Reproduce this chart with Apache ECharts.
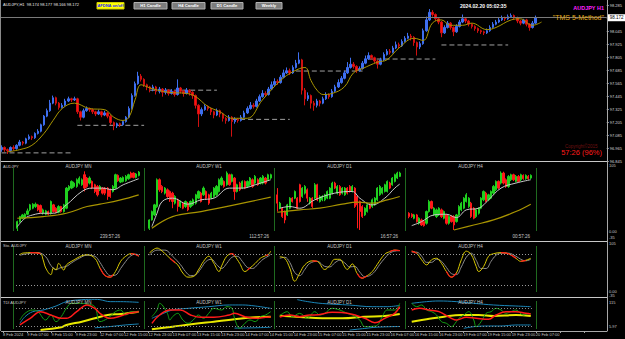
<!DOCTYPE html>
<html><head><meta charset="utf-8">
<script src="https://cdn.jsdelivr.net/npm/echarts@6/dist/echarts.min.js"></script>
<style>html,body{margin:0;padding:0;background:#000;overflow:hidden}#c{width:625px;height:339px}</style>
</head><body><div id="c"></div>
<script>
// ---------- MAIN H1 DATA ----------
const firstOpen = 96.95;
const closes = [
96.97,96.95,96.94,96.97,96.96,96.99,97.02,97.01,97.05,97.07,
97.06,97.10,97.12,97.18,97.26,97.31,97.38,97.43,97.38,97.34,
97.36,97.40,97.42,97.41,97.42,97.30,97.25,97.31,97.33,97.32,
97.30,97.28,97.30,97.27,97.29,97.26,97.20,97.17,97.19,97.18,
97.21,97.25,97.33,97.45,97.56,97.63,97.60,97.55,97.53,97.51,
97.53,97.49,97.51,97.48,97.50,97.47,97.49,97.46,97.52,97.49,
97.47,97.50,97.48,97.45,97.36,97.28,97.32,97.35,97.33,97.30,
97.27,97.31,97.28,97.24,97.22,97.25,97.21,97.23,97.22,97.25,
97.29,97.33,97.36,97.35,97.40,97.44,97.47,97.46,97.51,97.55,
97.58,97.57,97.62,97.66,97.68,97.66,97.71,97.75,97.78,97.50,
97.42,97.45,97.38,97.36,97.40,97.38,97.42,97.46,97.44,97.49,
97.53,97.57,97.61,97.66,97.71,97.74,97.72,97.68,97.70,97.75,
97.79,97.82,97.80,97.77,97.74,97.78,97.83,97.86,97.85,97.89,
97.92,97.91,97.95,97.98,98.00,97.99,97.94,97.90,97.93,98.05,
98.15,98.22,98.20,98.16,98.13,98.03,98.08,98.12,98.08,98.04,
98.09,98.13,98.16,98.14,98.11,98.09,98.07,98.05,98.04,98.03,
98.05,98.08,98.11,98.13,98.15,98.17,98.16,98.18,98.19,98.17,
98.14,98.12,98.15,98.11,98.08,98.12,98.17];
const highs = [
96.99,96.98,96.96,96.98,96.99,97.00,97.04,97.03,97.06,97.09,
97.08,97.11,97.14,97.19,97.27,97.33,97.41,97.45,97.44,97.39,
97.38,97.42,97.44,97.43,97.44,97.43,97.31,97.33,97.35,97.34,
97.33,97.31,97.32,97.31,97.31,97.30,97.27,97.21,97.20,97.20,
97.22,97.26,97.35,97.47,97.58,97.67,97.65,97.61,97.56,97.54,
97.55,97.54,97.53,97.52,97.52,97.51,97.51,97.50,97.60,97.53,
97.50,97.52,97.51,97.49,97.46,97.37,97.34,97.37,97.36,97.34,
97.31,97.33,97.32,97.29,97.25,97.27,97.26,97.25,97.24,97.27,
97.31,97.35,97.39,97.38,97.42,97.46,97.50,97.49,97.53,97.58,
97.61,97.60,97.64,97.69,97.71,97.70,97.73,97.78,97.85,97.79,
97.52,97.48,97.46,97.40,97.42,97.41,97.44,97.48,97.47,97.51,
97.55,97.60,97.63,97.68,97.76,97.80,97.76,97.73,97.72,97.77,
97.82,97.85,97.83,97.81,97.78,97.80,97.85,97.88,97.88,97.91,
97.95,97.94,97.97,98.00,98.03,98.02,98.00,97.95,97.95,98.07,
98.18,98.25,98.24,98.21,98.17,98.14,98.10,98.14,98.13,98.09,
98.11,98.15,98.20,98.17,98.15,98.12,98.10,98.08,98.06,98.05,
98.07,98.10,98.13,98.15,98.17,98.19,98.18,98.20,98.21,98.20,
98.18,98.15,98.16,98.16,98.12,98.14,98.19];
const lows = [
96.93,96.93,96.91,96.93,96.94,96.95,96.98,96.99,97.00,97.04,
97.04,97.05,97.09,97.11,97.17,97.25,97.30,97.37,97.36,97.32,
97.33,97.35,97.39,97.39,97.40,97.28,97.22,97.24,97.30,97.30,
97.28,97.26,97.27,97.25,97.26,97.24,97.18,97.13,97.15,97.16,
97.17,97.20,97.24,97.32,97.44,97.55,97.58,97.53,97.50,97.48,
97.49,97.46,97.47,97.44,97.46,97.45,97.46,97.44,97.45,97.47,
97.44,97.46,97.45,97.42,97.33,97.16,97.26,97.31,97.31,97.27,
97.24,97.26,97.25,97.21,97.19,97.21,97.07,97.19,97.20,97.21,
97.24,97.28,97.32,97.33,97.34,97.39,97.43,97.44,97.45,97.50,
97.54,97.55,97.56,97.61,97.65,97.64,97.65,97.70,97.74,97.46,
97.36,97.40,97.33,97.31,97.34,97.35,97.37,97.41,97.42,97.43,
97.48,97.52,97.56,97.60,97.65,97.70,97.70,97.66,97.67,97.69,
97.74,97.78,97.78,97.75,97.70,97.73,97.77,97.82,97.83,97.84,
97.88,97.89,97.90,97.94,97.97,97.96,97.91,97.82,97.88,97.92,
98.04,98.14,98.18,98.14,98.11,97.99,98.02,98.07,98.06,98.00,
98.03,98.08,98.12,98.12,98.09,98.07,98.05,98.03,98.02,98.01,
98.02,98.04,98.07,98.10,98.12,98.14,98.14,98.15,98.17,98.15,
98.12,98.10,98.11,98.09,98.05,98.07,98.11];
const maMain = [[2,96.93],[6,96.95],[10,96.99],[14,97.10],[17,97.22],[20,97.33],[24,97.38],[29,97.33],[34,97.32],[37,97.25],[40,97.22],[42,97.25],[44,97.41],[46,97.55],[49,97.52],[55,97.48],[61,97.47],[64,97.44],[68,97.35],[72,97.30],[76,97.24],[81,97.24],[86,97.41],[92,97.59],[96,97.67],[100,97.71],[102,97.59],[104,97.50],[106,97.46],[109,97.47],[113,97.53],[116,97.66],[119,97.70],[124,97.76],[127,97.78],[131,97.89],[136,97.98],[139,97.96],[142,98.12],[145,98.15],[148,98.10],[152,98.10],[155,98.12],[160,98.06],[163,98.08],[168,98.15],[171,98.16],[175,98.10],[178,98.13]];
const levelPrices = [96.92, 97.175, 97.50, 97.23, 97.677, 97.788, 97.918];
const levelStart  = [0, 25, 49, 76, 97, 121, 145];
const levelEnd    = [23, 47, 71, 95, 119, 143, 167];
const bidPrice = 98.172;
const tickLabels = ['8 Feb 2024','9 Feb 07:00','9 Feb 15:00','9 Feb 23:00','12 Feb 07:00','12 Feb 15:00','12 Feb 23:00','13 Feb 07:00','13 Feb 15:00','13 Feb 23:00','14 Feb 07:00','14 Feb 15:00','14 Feb 23:00','15 Feb 07:00','15 Feb 15:00','15 Feb 23:00','16 Feb 07:00','16 Feb 15:00','16 Feb 23:00','19 Feb 07:00','19 Feb 15:00','19 Feb 23:00','20 Feb 07:00'];

// ---------- MINI CHARTS (relative level 0-100) [open, close, low, high] ----------
const tfNames = ['AUDJPY MN','AUDJPY W1','AUDJPY D1','AUDJPY H4'];
const tfTimers = ['239:57:26','112:57:26','16:57:26','00:57:26'];
const mnCandles = [[5.5,15.5,1.5,17],[15.5,23,14,24],[20.5,25.5,19,27],[21.5,26.5,20,28],[26.5,31.5,25,35],[33,40.5,31,42],[35.5,41.5,34,43],[38,41.5,36,44],[40.5,33,31,42],[39.5,29.5,28,41],[28,33,26,35],[26.5,31.5,25,33],[30.5,26.5,25,32],[28,45.5,26,47],[40.5,30.5,29,42],[35.5,29.5,28,37],[29.5,38,28,40],[38,30.5,29,39],[30.5,40.5,29,42],[35.5,65.5,34,67],[63,68,61,70],[65.5,75.5,64,77],[68,73,66,75],[68,78,66,80],[73,80.5,71,83],[70.5,78,69,80],[85.5,65.5,60.5,90.5],[80.5,68,66,82],[73,80.5,71,83],[75.5,65.5,64,77],[70.5,60.5,58,72],[68,55.5,53,70],[63,68,61,70],[65.5,58,56,67],[65.5,58,55,67],[65.5,53,48,67],[63,53,51,65],[60.5,68,59,70],[65.5,85.5,64,87],[84.5,76.5,75,86],[74.5,80.5,73,82],[75.5,81.5,74,83],[76.5,83,75,85],[79.5,85.5,78,87],[88,81.5,80,90],[88,81.5,80,89],[81.5,86.5,80,88],[84.5,89.5,83,91]];
const w1Candles = [[5.5,18,3,19],[18,30.5,17,32],[25.5,40.5,24,42],[38,78,36,80],[78,63,60,80],[68,60.5,58,70],[58,65.5,56,67],[63,53,51,65],[60.5,48,45,62],[58,45.5,35.5,60],[43,53,41,55],[48,38,30.5,50],[38,45.5,36,47],[43,35.5,34,45],[38,45.5,36,47],[43,33,31,45],[38,45.5,36,47],[40.5,48,39,50],[43,55.5,41,57],[50.5,60.5,49,62],[58,45.5,44,60],[55.5,65.5,54,68],[60.5,50.5,48,62],[55.5,43,40.5,57],[50.5,58,49,60],[53,65.5,51,67],[55.5,68,54,70],[60.5,78,59,80],[70.5,80.5,69,83],[75.5,68,66,77],[70.5,88,69,90.5],[85.5,70.5,69,87],[75.5,85.5,74,87],[80.5,60.5,48,82],[60.5,70.5,59,72],[73,63,61,75],[65.5,75.5,64,77],[75.5,65.5,64,77],[68,75.5,66,77],[70.5,80.5,69,82],[78,68,66,80],[73,83,71,85],[78,70.5,69,80],[73,80.5,71,82],[73,83,71,85],[80.5,73,71,82],[78,85.5,76,87],[80.5,85.5,79,87]];
const d1Candles = [[55.5,43,30.5,65.5],[35.5,43,34,45],[35.5,23,21,37],[30.5,18,13,32],[25.5,40.5,24,42],[35.5,50.5,34,52],[50.5,45.5,44,52],[50.5,60.5,49,62],[50.5,35.5,34,52],[70.5,45.5,44,72],[53,65.5,51,67],[58,68,56,70],[63,50.5,45,65],[43,50.5,41,52],[50.5,38,36,52],[50.5,70.5,49,73],[70.5,48,46,72],[45.5,53,44,55],[48,53,46,55],[48,55.5,46,57],[50.5,60.5,49,62],[50.5,65.5,49,67],[58,73,56,75],[73,65.5,64,75],[58,68,56,70],[68,55.5,54,70],[58,65.5,56,67],[55.5,65.5,54,67],[65.5,58,56,67],[68,60.5,59,70],[60.5,68,59,70],[65.5,38,36,67],[53,40.5,5.5,55],[45.5,30.5,3,47],[38,23,21,40],[25.5,35.5,24,37],[30.5,40.5,29,42],[40.5,35.5,34,42],[38,48,36,50],[40.5,50.5,39,52],[48,65.5,46,67],[55.5,68,54,70],[58,65.5,56,67],[60.5,70.5,59,72],[60.5,75.5,59,77],[73,65.5,64,75],[70.5,80.5,69,82],[75.5,85.5,74,87],[80.5,88,79,90],[83,88,82,90]];
const h4Candles = [[28,23,20.5,29.5],[26.5,23,21,28],[20.5,25.5,19,27],[25.5,15.5,14,27],[13,20.5,11,22],[18,10.5,9,20],[15.5,9.5,8,17],[13,30.5,11,32],[30.5,45.5,29,48],[45.5,35.5,34,47],[25.5,35.5,24,37],[23,33,21,35],[25.5,35.5,24,37],[33,23,21,35],[20.5,30.5,19,32],[25.5,13,11,27],[13,23,11,25],[23,15.5,14,25],[23,10.5,3,25],[15.5,25.5,14,27],[25.5,38,24,40],[33,43,31,45],[35.5,50.5,34,52],[45.5,55.5,44,58],[38,50.5,36,52],[43,23,21,45],[35.5,20.5,19,37],[23,33,21,35],[28,35.5,26,37],[35.5,50.5,34,52],[48,60.5,46,62],[58,45.5,44,60],[48,55.5,46,57],[50.5,60.5,49,62],[58,68,56,70],[63,75.5,61,77],[75.5,65.5,64,77],[73,88,71,90.5],[88,73,71,90],[78,68,66,80],[68,83,66,85],[78,85.5,76,87],[85.5,78,76,87],[75.5,83,74,85],[83,75.5,74,85],[78,85.5,76,87],[84.5,79.5,78,86],[79.5,84.5,78,86],[83,79.5,78,85],[80.5,84.5,79,86]];
const fastMA = [
 [[0,8],[3,20.5],[6,25.5],[10,28],[14,28],[19,40.5],[25,60.5],[29,65.5],[33,65.5],[37,63],[41,70.5],[47,79.5]],
 [[1,8],[3,28],[5,45.5],[9,50.5],[15,41.5],[20,48],[25,50.5],[31,65.5],[36,65.5],[41,70.5],[47,78]],
 [[1,35.5],[5,38],[9,35.5],[15,48],[23,58],[30,60.5],[33,50.5],[38,40.5],[43,50.5],[47,65.5],[49,71.5]],
 [[1,9.5],[5,15.5],[10,25.5],[15,26.5],[19,21.5],[23,33],[28,35.5],[32,48],[37,65.5],[43,73],[49,78]]];
const slowMA = [
 [[0,20.5],[10,23],[19,28],[27,38],[32,41.5],[40,48],[47,55.5]],
 [[1,5.5],[9,23],[20,30.5],[33,40.5],[47,52]],
 [[0,29.5],[9,33],[17,35.5],[26,41.5],[32,44.5],[38,43],[44,48],[49,53]],
 [[18,3],[26,10.5],[34,18],[43,30.5],[49,41.5]]];
// ---------- STOCHASTIC (0-100) ----------
const stochMain = [
 [[1,79],[2,82],[6,83],[9,81],[10,69],[11,53],[13,40],[14,53],[15,49],[16,62],[18,49],[19,59],[22,69],[25,77],[27,79],[30,72],[32,53],[34,38],[36,35],[38,46],[40,66],[42,76],[44,81],[46,79],[47,76]],
 [[0,82],[3,92],[5,86],[8,72],[11,59],[13,43],[15,35],[17,36],[19,49],[21,66],[23,76],[25,62],[27,46],[28,57],[30,76],[32,81],[33,77],[35,62],[37,46],[39,53],[41,62],[43,72],[45,77],[46,79],[47,86]],
 [[1,75],[3,72],[5,53],[7,27],[9,43],[11,59],[14,67],[16,66],[19,50],[21,58],[23,70],[25,70],[27,55],[28,50],[30,61],[32,42],[34,33],[36,38],[38,46],[40,60],[43,80],[45,85],[47,88],[49,87]],
 [[1,86],[3,82],[5,69],[7,59],[9,69],[11,72],[13,62],[15,46],[17,35],[19,43],[21,69],[23,86],[25,79],[27,56],[28,46],[30,56],[32,76],[34,81],[37,83],[40,81],[43,72],[45,66],[47,68],[49,72]]];
const stochSignal = [
 [[1,78],[4,81],[8,83],[11,75],[13,58],[15,50],[17,54],[19,56],[21,63],[24,72],[27,78],[30,76],[32,64],[34,48],[36,38],[38,39],[40,52],[42,66],[44,77],[46,80],[47,78]],
 [[0,78],[3,88],[6,88],[9,76],[12,60],[14,46],[16,38],[18,40],[20,52],[22,66],[24,70],[26,60],[28,52],[30,62],[32,74],[34,76],[36,66],[38,54],[40,52],[42,60],[44,70],[46,76],[47,80]],
 [[1,72],[3,74],[5,64],[7,44],[9,38],[11,50],[13,62],[16,66],[19,56],[21,55],[23,63],[25,68],[27,63],[29,55],[31,56],[33,45],[35,36],[37,38],[39,46],[41,60],[43,72],[45,82],[47,86],[49,87]],
 [[1,84],[3,84],[5,76],[7,64],[9,64],[11,70],[13,66],[15,54],[17,42],[19,40],[21,55],[23,74],[25,82],[27,68],[29,52],[31,52],[33,66],[35,78],[37,82],[40,82],[43,76],[45,70],[47,67],[49,70]]];
// red-highlighted stretches of the stochastic, per panel
const stochRed = [
 [[[5,83],[6,83],[9,81]], [[32,53],[34,38],[36,35],[37,40]], [[44,81],[46,79],[47,76]]],
 [[[8,72],[10,63]], [[31,80],[32,81],[33,77]], [[38,49],[39,53]], [[45,77],[46,79]]],
 [[[14,67],[16,66]], [[32,42],[34,33],[36,38]], [[45,85],[47,88],[49,87]]],
 [[[1,86],[3,82]], [[15,46],[17,35],[19,43]], [[37,83],[40,81],[43,72]], [[45,66],[47,68]]]];
// ---------- TDI (0-100) ----------
const tdiUpper = [
 [[1,24],[3,44.8],[6,60.4],[10,65.6],[15,78.1],[19,91.7],[25,97.9],[30,99],[32,97.9],[36,91.7],[40,91.7],[47,89.6]],
 [[1,39.6],[4,50],[9,65.6],[15,70.8],[23,76],[31,81.3],[36,81.3],[41,78.1],[47,70.8]],
 [[8,98],[12,92],[18,86],[29,81],[38,76],[44,76],[49,80]],
 [[1,86.5],[7,91.7],[12,93.8],[19,91.7],[26,86.5],[34,81.3],[43,78.1],[49,76]]];
const tdiLower = [
 [[30,10],[36,14],[42,19],[47,22]],
 [[33,9],[38,9.5],[43,10.5],[47,11.5]],
 [[29,3],[35,8],[40,12],[49,14]],
 [[22,8.3],[26,13.5],[32,15.6],[37,15.6],[43,18.8],[49,18.8]]];
const tdiRsi = [
 [[1,34.4],[3,55.2],[6,65.6],[8,60.4],[11,34.4],[13,50],[15,29.2],[17,44.8],[19,70.8],[21,86.5],[25,86.5],[27,84.4],[30,76],[32,29.2],[35,39.6],[38,60.4],[40,65.6],[42,50],[44,60.4],[46,60.4],[47,57.3]],
 [[1,44.8],[3,65.6],[4,86.5],[5,81.3],[7,55.2],[8,34.4],[9,44.8],[11,55.2],[13,34.4],[15,24],[17,34.4],[19,50],[21,39.6],[23,55.2],[25,70.8],[28,65.6],[30,76],[32,70.8],[33,39.6],[35,8.3],[37,24],[39,34.4],[41,29.2],[43,44.8],[45,50],[47,60.4]],
 [[1,47.9],[4,60.4],[6,44.8],[9,55.2],[12,39.6],[15,60.4],[17,50],[19,55.2],[22,70.8],[25,65.6],[28,55.2],[30,50],[33,34.4],[35,13.5],[38,14.6],[40,17.7],[42,44.8],[44,65.6],[47,65.6],[49,86.5]],
 [[1,86.5],[3,76],[5,81.3],[7,65.6],[9,60.4],[11,50],[13,29.2],[15,24],[17,13.5],[19,29.2],[20,39.6],[22,50],[24,60.4],[26,34.4],[27,13.5],[29,29.2],[31,55.2],[33,60.4],[35,70.8],[37,65.6],[39,55.2],[41,60.4],[43,65.6],[46,50],[48,55.2],[49,53.1]]];
const tdiSignal = [
 [[1,18.8],[5,39.6],[9,60.4],[13,50],[17,39.6],[19,39.6],[23,60.4],[27,81.3],[30,70.8],[32,55.2],[36,39.6],[40,46.9],[44,57.3],[47,60.4]],
 [[1,24],[4,50],[8,65.6],[12,65.6],[16,50],[20,42.7],[25,42.7],[31,50],[33,55.2],[37,44.8],[41,39.6],[45,42.7],[47,44.8]],
 [[1,43.8],[5,50],[9,44.8],[13,50],[15,50],[22,58.3],[29,54.2],[35,39.6],[39,26],[43,39.6],[47,55.2],[49,76]],
 [[1,65.6],[4,70.8],[8,65.6],[12,60.4],[17,39.6],[19,34.4],[23,42.7],[27,39.6],[32,36.5],[35,50],[39,60.4],[43,60.4],[47,55.2],[49,53.1]]];
const tdiBase = [
 [[9,3.1],[17,11.5],[19,18.8],[25,29.2],[30,39.6],[35,50],[40,53.1],[47,60.4]],
 [[1,5.2],[9,13.5],[17,21.9],[25,29.2],[33,36.5],[41,42.7],[47,44.8]],
 [[1,47.9],[9,43.8],[18,39.6],[26,39.6],[35,44.8],[43,46.9],[49,53.1]],
 [[1,29.2],[7,36.5],[14,44.8],[21,50],[28,50],[34,46.9],[43,50],[49,46.9]]];

// ---------- BUILD ----------
const FONT = '"Liberation Sans", Arial, sans-serif';
const N = 200;
const opens = closes.map((c, i) => i === 0 ? firstOpen : closes[i - 1]);
const mainOHLC = closes.map((c, i) => [opens[i], c, lows[i], highs[i]]);
const cats = Array.from({length: N}, (_, i) => String(i));
const miniCandles = [mnCandles, w1Candles, d1Candles, h4Candles];
const miniLeft = [16, 148, 276, 408];
const miniWidth = [124, 124, 125, 124];
const panelMid = [78.5, 209, 339.5, 470.5];
const timerRight = [120, 269, 398, 530];
const dividerX = [13, 144, 274, 405, 536];

const grid = [
  {left: 0, top: 0, width: 607, height: 161},
  {left: 0, top: 298, width: 607, height: 33}
];
const xAxis = [
  {gridIndex: 0, type: 'category', data: cats, show: false, boundaryGap: true},
  {gridIndex: 1, type: 'category', data: cats, boundaryGap: true,
   axisLine: {show: true, lineStyle: {color: '#a8a8a8', width: 1}},
   axisTick: {show: true, interval: 7, length: 2, alignWithLabel: true, lineStyle: {color: '#a8a8a8'}},
   axisLabel: {show: true, interval: 7, margin: 1, fontSize: 4, fontFamily: FONT, color: '#c8c8c8', align: 'left',
     formatter: (v, idx) => tickLabels[Math.round(Number(v) / 8)] || ''},
   splitLine: {show: false}}
];
const yAxis = [
  {gridIndex: 0, type: 'value', position: 'right', min: 96.845, max: 98.334, interval: 0.12, scale: true,
   axisLine: {show: true, lineStyle: {color: '#a8a8a8'}},
   axisTick: {show: true, length: 2, lineStyle: {color: '#a8a8a8'}},
   axisLabel: {show: true, margin: 3, fontSize: 4, fontFamily: FONT, color: '#d8d8d8', showMaxLabel: false,
     formatter: v => v.toFixed(3)},
   splitLine: {show: false}},
  {gridIndex: 1, type: 'value', min: 0, max: 1, show: false}
];
const series = [];
series.push({type: 'candlestick', xAxisIndex: 0, yAxisIndex: 0, data: mainOHLC, barWidth: 2,
  itemStyle: {color: '#3e6ff0', color0: '#ff1010', borderColor: '#3e6ff0', borderColor0: '#d01010', borderWidth: 1},
  markLine: {silent: true, symbol: 'none', animation: false,
    lineStyle: {color: '#7a7a7a', type: 'solid', width: 1},
    label: {show: true, position: 'end', distance: 1, formatter: bidPrice.toFixed(3), backgroundColor: '#ffffff', color: '#000', fontSize: 4.5, fontFamily: FONT, padding: [1, 2]},
    data: [{yAxis: bidPrice}]}});
series.push({type: 'line', xAxisIndex: 0, yAxisIndex: 0, data: maMain, smooth: 0.4, symbol: 'none',
  lineStyle: {color: '#a89400', width: 1}, z: 3});
levelPrices.forEach((p, k) => {
  series.push({type: 'line', xAxisIndex: 0, yAxisIndex: 0, symbol: 'none',
    data: [[levelStart[k], p], [levelEnd[k], p]],
    lineStyle: {color: '#a0a0a0', width: 1, type: [5, 3]}, z: 1});
});
series.push({type: 'line', xAxisIndex: 1, yAxisIndex: 1, data: [], symbol: 'none'});

function addGrid(left, top, width, height, n) {
  grid.push({left, top, width, height});
  const gi = grid.length - 1;
  xAxis.push({gridIndex: gi, type: 'category', data: Array.from({length: n}, (_, i) => String(i)), show: false, boundaryGap: true});
  yAxis.push({gridIndex: gi, type: 'value', min: 0, max: 100, show: false});
  return gi;
}
for (let t = 0; t < 4; t++) {
  const n = miniCandles[t].length;
  const g = addGrid(miniLeft[t], 165, miniWidth[t], 67, n);
  series.push({type: 'candlestick', xAxisIndex: g, yAxisIndex: g, data: miniCandles[t], barWidth: 1.8,
    itemStyle: {color: '#1fd01f', color0: '#ff1a1a', borderColor: '#1fd01f', borderColor0: '#ff1a1a', borderWidth: 1}});
  series.push({type: 'line', xAxisIndex: g, yAxisIndex: g, data: fastMA[t], smooth: 0.4, symbol: 'none', lineStyle: {color: '#c8c8c8', width: 1}, z: 3});
  series.push({type: 'line', xAxisIndex: g, yAxisIndex: g, data: slowMA[t], smooth: 0.4, symbol: 'none', lineStyle: {color: '#a89400', width: 1.2}, z: 3});
}
for (let t = 0; t < 4; t++) {
  const n = miniCandles[t].length;
  const g = addGrid(miniLeft[t], 244, miniWidth[t], 51, n);
  series.push({type: 'line', xAxisIndex: g, yAxisIndex: g, data: stochSignal[t], smooth: 0.4, symbol: 'none', lineStyle: {color: '#8c8c8c', width: 1}, z: 2,
    markLine: {silent: true, symbol: 'none', label: {show: false}, lineStyle: {color: '#9a9a9a', type: [1, 2], width: 1}, data: [{yAxis: 80}, {yAxis: 20}]}});
  series.push({type: 'line', xAxisIndex: g, yAxisIndex: g, data: stochMain[t], smooth: 0.4, symbol: 'none', lineStyle: {color: '#d8c800', width: 1}, z: 3});
  stochRed[t].forEach(seg => series.push({type: 'line', xAxisIndex: g, yAxisIndex: g, data: seg, smooth: 0.4, symbol: 'none', lineStyle: {color: '#ff1a1a', width: 1.2}, z: 4}));
}
for (let t = 0; t < 4; t++) {
  const n = miniCandles[t].length;
  const g = addGrid(miniLeft[t], 299, miniWidth[t], 32, n);
  series.push({type: 'line', xAxisIndex: g, yAxisIndex: g, data: tdiUpper[t], smooth: 0.4, symbol: 'none', lineStyle: {color: '#1b86b8', width: 1}, z: 2,
    markLine: {silent: true, symbol: 'none', label: {show: false}, lineStyle: {color: '#8a8a8a', type: [1, 2], width: 1}, data: [{yAxis: 70}, {yAxis: 16}]}});
  series.push({type: 'line', xAxisIndex: g, yAxisIndex: g, data: tdiLower[t], smooth: 0.4, symbol: 'none', lineStyle: {color: '#1b86b8', width: 1}, z: 2});
  series.push({type: 'line', xAxisIndex: g, yAxisIndex: g, data: tdiBase[t], smooth: 0.4, symbol: 'none', lineStyle: {color: '#e8e800', width: 2}, z: 3});
  series.push({type: 'line', xAxisIndex: g, yAxisIndex: g, data: tdiRsi[t], smooth: 0.4, symbol: 'none', lineStyle: {color: '#14a014', width: 1}, z: 4});
  series.push({type: 'line', xAxisIndex: g, yAxisIndex: g, data: tdiSignal[t], smooth: 0.4, symbol: 'none', lineStyle: {color: '#ff1a1a', width: 1.5}, z: 5});
}

// ---------- FRAME & TEXT ----------
const G = [];
function txt(x, y, s, size, color, opt) {
  opt = opt || {};
  G.push({type: 'text', x, y, z: 100, silent: true,
    style: {text: s, fill: color, font: (opt.bold ? 'bold ' : '') + size + 'px ' + FONT, textAlign: opt.align || 'left', textVerticalAlign: 'middle'}});
}
function line(x1, y1, x2, y2, color, w) {
  G.push({type: 'line', z: 50, silent: true, shape: {x1, y1, x2, y2}, style: {stroke: color, lineWidth: w || 1}});
}
function rect(x, y, w, h, fill, stroke) {
  G.push({type: 'rect', z: 90, silent: true, shape: {x, y, width: w, height: h}, style: {fill, stroke: stroke || null, lineWidth: 1}});
}
[161.5, 241.5, 297.5].forEach(y => line(0, y, 607, y, '#c8c8c8', 1.2));
line(0.5, 0, 0.5, 331, '#8a8a8a', 1);
line(607.5, 0, 607.5, 331, '#a8a8a8', 1);
[[168, 231], [246, 292], [301, 329]].forEach(r => dividerX.forEach(x => line(x + 0.5, r[0], x + 0.5, r[1], '#1f6a1f', 1)));

txt(3, 4, 'AUDJPY,H1  98.174 98.177 98.166 98.172', 4, '#e8e8e8');
rect(97, 2.5, 27, 6.5, '#ffff00', '#d0d000');
txt(110.5, 5.8, 'AFDNA on/off', 4, '#2020ff', {bold: true, align: 'center'});
[['H1 Candle', 134, 33], ['H4 Candle', 172, 33], ['D1 Candle', 211, 32], ['Weekly', 256, 26]].forEach(b => {
  rect(b[1], 2.5, b[2], 6.5, '#7c7c7c', '#b0b0b0');
  txt(b[1] + b[2] / 2, 5.8, b[0], 4.2, '#ffffff', {bold: true, align: 'center'});
});
txt(460, 6, '2024.02.20 05:02:35', 5, '#ffffff', {bold: true});
txt(604, 8, 'AUDJPY H1', 5.5, '#ff20ff', {bold: true, align: 'right'});
txt(604, 17, '"TMS 5-Method"', 7, '#e0a818', {align: 'right'});
txt(565, 146, 'Copyright\u00a92015', 4.5, '#701010');
txt(602, 152, '57:26 (96%)', 7.5, '#ff1a1a', {align: 'right'});

txt(3, 166, 'AUDJPY', 4, '#c8c8c8');
txt(3, 245, 'Sto. AUDJPY', 4, '#c8c8c8');
txt(3, 302, 'TDI AUDJPY', 4, '#c8c8c8');
for (let t = 0; t < 4; t++) {
  txt(panelMid[t], 166.5, tfNames[t], 4.5, '#c8c8c8', {align: 'center'});
  txt(timerRight[t], 236.5, tfTimers[t], 4.5, '#c8c8c8', {align: 'right'});
  txt(panelMid[t], 246, tfNames[t], 4.5, '#c8c8c8', {align: 'center'});
  txt(panelMid[t], 302, tfNames[t], 4.5, '#c8c8c8', {align: 'center'});
}
[[165, '105'], [231, '0.00'], [237, '-35'], [243, '105'], [291, '0.00'], [295, '-35'], [302, '115'], [326, '5.97']].forEach(a => txt(609, a[0], a[1], 4, '#c8c8c8'));

const chart = echarts.init(document.getElementById('c'), null, {renderer: 'svg', width: 625, height: 339});
chart.setOption({backgroundColor: '#000000', animation: false, grid, xAxis, yAxis, series, graphic: {elements: G}});
</script>
</body></html>
